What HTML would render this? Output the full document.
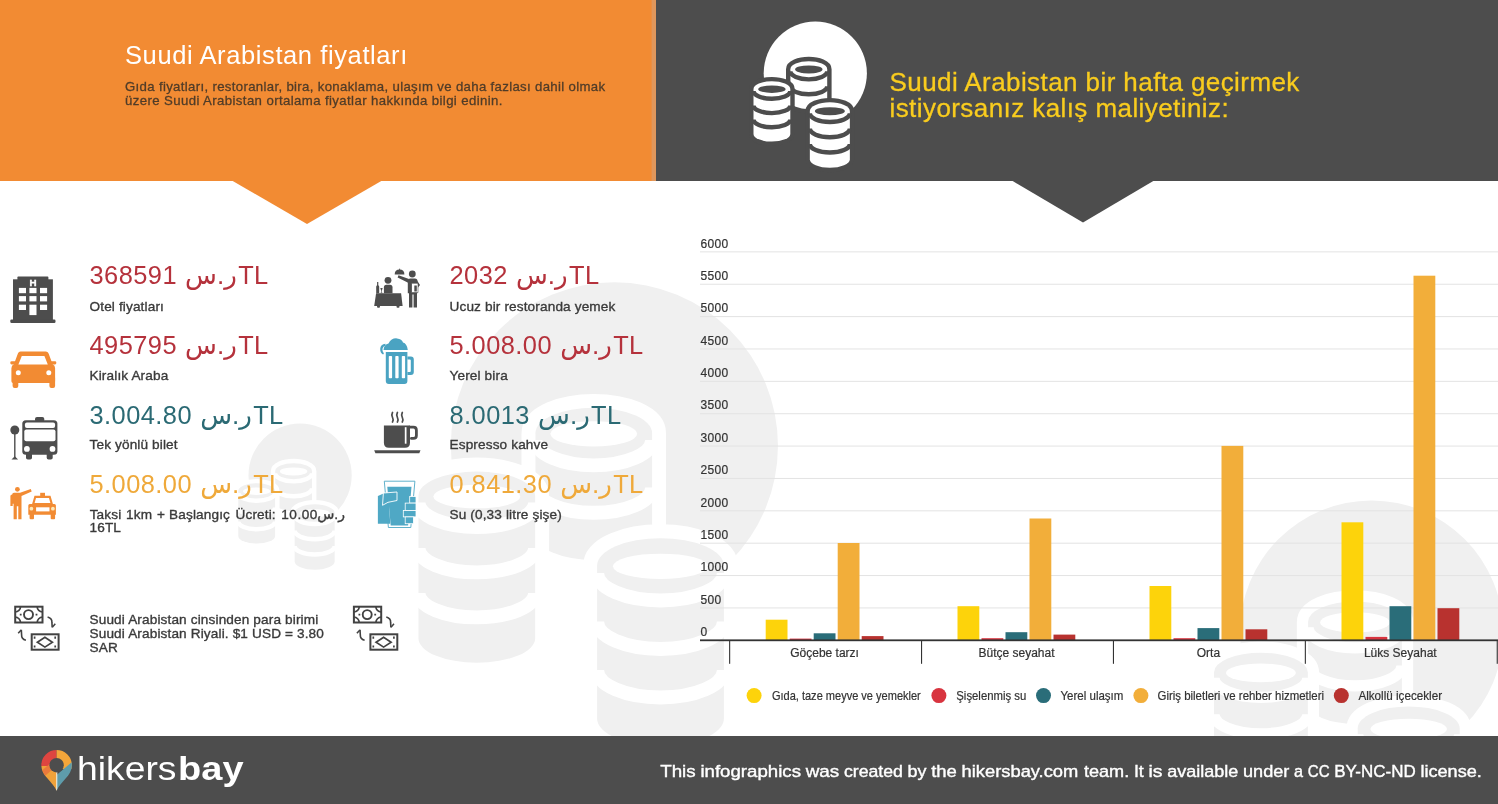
<!DOCTYPE html>
<html lang="tr"><head><meta charset="utf-8"><title>Suudi Arabistan fiyatları</title>
<style>
html,body{margin:0;padding:0;background:#fff;}
body{width:1498px;height:804px;overflow:hidden;position:relative;font-family:"Liberation Sans","DejaVu Sans",sans-serif;}
svg{position:absolute;left:0;top:0;}
text{font-family:"Liberation Sans","DejaVu Sans",sans-serif;}
.yl{font-size:12px;fill:#333;letter-spacing:0.3px;stroke:#333;stroke-width:0.2px;}
.cat{font-size:12px;fill:#333;stroke:#333;stroke-width:0.2px;}
.lg{font-size:12.4px;fill:#333;stroke:#333;stroke-width:0.2px;}
.pr{font-size:25.4px;}
.ar{font-size:26.1px;}
.ar2{font-size:14px;}
.lb{font-size:13.6px;fill:#3a3a3a;letter-spacing:0.14px;stroke:#3a3a3a;stroke-width:0.35px;}
.h1{font-size:25.5px;fill:#fff;letter-spacing:0.6px;}
.sub{font-size:13.2px;fill:#503c28;letter-spacing:0.33px;stroke:#503c28;stroke-width:0.3px;}
.h2{font-size:26px;fill:#f9cc1e;letter-spacing:0.42px;stroke:#f9cc1e;stroke-width:0.3px;}
.ft{font-size:17.2px;fill:#fff;stroke:#fff;stroke-width:0.4px;}
.logo1{font-size:33px;fill:#fff;}
</style></head><body>
<svg width="1498" height="804" viewBox="0 0 1498 804">
<rect width="1498" height="804" fill="#fff"/>
<!-- watermarks -->
<g transform="translate(-515.2,402)"><circle cx="815.3" cy="73.2" r="51.6" fill="#f0f0f0"/>
<rect x="784" y="98" width="30" height="32" fill="#ffffff"/>
<path d="M790.40,69.20 A18.40,8.00 0 0 1 827.20,69.20 L827.20,101.20 A18.40,8.00 0 0 1 790.40,101.20 Z" fill="#ffffff" stroke="#ffffff" stroke-width="8.8" stroke-linejoin="round"/>
<path d="M790.40,69.20 A18.40,8.00 0 0 1 827.20,69.20 L827.20,101.20 A18.40,8.00 0 0 1 790.40,101.20 Z" fill="#f0f0f0"/>
<path d="M790.40,71.35 A18.40,8.00 0 0 0 827.20,71.35" fill="none" stroke="#ffffff" stroke-width="4.4"/>
<path d="M790.40,86.30 A18.40,8.00 0 0 0 827.20,86.30" fill="none" stroke="#ffffff" stroke-width="4.4"/>
<ellipse cx="808.80" cy="69.40" rx="13.7" ry="4" fill="#ffffff"/>
<path d="M753.50,89.00 A18.40,7.70 0 0 1 790.30,89.00 L790.30,133.90 A18.40,7.70 0 0 1 753.50,133.90 Z" fill="#ffffff" stroke="#ffffff" stroke-width="8.8" stroke-linejoin="round"/>
<path d="M753.50,89.00 A18.40,7.70 0 0 1 790.30,89.00 L790.30,133.90 A18.40,7.70 0 0 1 753.50,133.90 Z" fill="#f0f0f0"/>
<path d="M753.50,91.10 A18.40,7.70 0 0 0 790.30,91.10" fill="none" stroke="#ffffff" stroke-width="4.4"/>
<path d="M753.50,105.40 A18.40,7.70 0 0 0 790.30,105.40" fill="none" stroke="#ffffff" stroke-width="4.4"/>
<path d="M753.50,119.60 A18.40,7.70 0 0 0 790.30,119.60" fill="none" stroke="#ffffff" stroke-width="4.4"/>
<ellipse cx="771.90" cy="89.20" rx="13.7" ry="3.7" fill="#ffffff"/>
<path d="M809.85,111.00 A20.00,8.65 0 0 1 849.85,111.00 L849.85,159.20 A20.00,8.65 0 0 1 809.85,159.20 Z" fill="#ffffff" stroke="#ffffff" stroke-width="8.8" stroke-linejoin="round"/>
<path d="M809.85,111.00 A20.00,8.65 0 0 1 849.85,111.00 L849.85,159.20 A20.00,8.65 0 0 1 809.85,159.20 Z" fill="#f0f0f0"/>
<path d="M809.85,113.30 A20.00,8.65 0 0 0 849.85,113.30" fill="none" stroke="#ffffff" stroke-width="4.4"/>
<path d="M809.85,128.60 A20.00,8.65 0 0 0 849.85,128.60" fill="none" stroke="#ffffff" stroke-width="4.4"/>
<path d="M809.85,143.90 A20.00,8.65 0 0 0 849.85,143.90" fill="none" stroke="#ffffff" stroke-width="4.4"/>
<ellipse cx="829.85" cy="111.20" rx="15" ry="4" fill="#ffffff"/></g>
<g transform="translate(476.8,662.7) scale(3.17) translate(-771.9,-141.6)"><circle cx="815.3" cy="73.2" r="51.6" fill="#f0f0f0"/>
<rect x="784" y="98" width="30" height="32" fill="#ffffff"/>
<path d="M790.40,69.20 A18.40,8.00 0 0 1 827.20,69.20 L827.20,101.20 A18.40,8.00 0 0 1 790.40,101.20 Z" fill="#ffffff" stroke="#ffffff" stroke-width="8.8" stroke-linejoin="round"/>
<path d="M790.40,69.20 A18.40,8.00 0 0 1 827.20,69.20 L827.20,101.20 A18.40,8.00 0 0 1 790.40,101.20 Z" fill="#f0f0f0"/>
<path d="M790.40,71.35 A18.40,8.00 0 0 0 827.20,71.35" fill="none" stroke="#ffffff" stroke-width="4.4"/>
<path d="M790.40,86.30 A18.40,8.00 0 0 0 827.20,86.30" fill="none" stroke="#ffffff" stroke-width="4.4"/>
<ellipse cx="808.80" cy="69.40" rx="13.7" ry="4" fill="#ffffff"/>
<path d="M753.50,89.00 A18.40,7.70 0 0 1 790.30,89.00 L790.30,133.90 A18.40,7.70 0 0 1 753.50,133.90 Z" fill="#ffffff" stroke="#ffffff" stroke-width="8.8" stroke-linejoin="round"/>
<path d="M753.50,89.00 A18.40,7.70 0 0 1 790.30,89.00 L790.30,133.90 A18.40,7.70 0 0 1 753.50,133.90 Z" fill="#f0f0f0"/>
<path d="M753.50,91.10 A18.40,7.70 0 0 0 790.30,91.10" fill="none" stroke="#ffffff" stroke-width="4.4"/>
<path d="M753.50,105.40 A18.40,7.70 0 0 0 790.30,105.40" fill="none" stroke="#ffffff" stroke-width="4.4"/>
<path d="M753.50,119.60 A18.40,7.70 0 0 0 790.30,119.60" fill="none" stroke="#ffffff" stroke-width="4.4"/>
<ellipse cx="771.90" cy="89.20" rx="13.7" ry="3.7" fill="#ffffff"/>
<path d="M809.85,111.00 A20.00,8.65 0 0 1 849.85,111.00 L849.85,159.20 A20.00,8.65 0 0 1 809.85,159.20 Z" fill="#ffffff" stroke="#ffffff" stroke-width="8.8" stroke-linejoin="round"/>
<path d="M809.85,111.00 A20.00,8.65 0 0 1 849.85,111.00 L849.85,159.20 A20.00,8.65 0 0 1 809.85,159.20 Z" fill="#f0f0f0"/>
<path d="M809.85,113.30 A20.00,8.65 0 0 0 849.85,113.30" fill="none" stroke="#ffffff" stroke-width="4.4"/>
<path d="M809.85,128.60 A20.00,8.65 0 0 0 849.85,128.60" fill="none" stroke="#ffffff" stroke-width="4.4"/>
<path d="M809.85,143.90 A20.00,8.65 0 0 0 849.85,143.90" fill="none" stroke="#ffffff" stroke-width="4.4"/>
<ellipse cx="829.85" cy="111.20" rx="15" ry="4" fill="#ffffff"/></g>
<g transform="translate(1214,653) scale(2.55) translate(-753.5,-81.4)"><circle cx="815.3" cy="73.2" r="51.6" fill="#f0f0f0"/>
<rect x="784" y="98" width="30" height="32" fill="#ffffff"/>
<path d="M790.40,69.20 A18.40,8.00 0 0 1 827.20,69.20 L827.20,101.20 A18.40,8.00 0 0 1 790.40,101.20 Z" fill="#ffffff" stroke="#ffffff" stroke-width="8.8" stroke-linejoin="round"/>
<path d="M790.40,69.20 A18.40,8.00 0 0 1 827.20,69.20 L827.20,101.20 A18.40,8.00 0 0 1 790.40,101.20 Z" fill="#f0f0f0"/>
<path d="M790.40,71.35 A18.40,8.00 0 0 0 827.20,71.35" fill="none" stroke="#ffffff" stroke-width="4.4"/>
<path d="M790.40,86.30 A18.40,8.00 0 0 0 827.20,86.30" fill="none" stroke="#ffffff" stroke-width="4.4"/>
<ellipse cx="808.80" cy="69.40" rx="13.7" ry="4" fill="#ffffff"/>
<path d="M753.50,89.00 A18.40,7.70 0 0 1 790.30,89.00 L790.30,133.90 A18.40,7.70 0 0 1 753.50,133.90 Z" fill="#ffffff" stroke="#ffffff" stroke-width="8.8" stroke-linejoin="round"/>
<path d="M753.50,89.00 A18.40,7.70 0 0 1 790.30,89.00 L790.30,133.90 A18.40,7.70 0 0 1 753.50,133.90 Z" fill="#f0f0f0"/>
<path d="M753.50,91.10 A18.40,7.70 0 0 0 790.30,91.10" fill="none" stroke="#ffffff" stroke-width="4.4"/>
<path d="M753.50,105.40 A18.40,7.70 0 0 0 790.30,105.40" fill="none" stroke="#ffffff" stroke-width="4.4"/>
<path d="M753.50,119.60 A18.40,7.70 0 0 0 790.30,119.60" fill="none" stroke="#ffffff" stroke-width="4.4"/>
<ellipse cx="771.90" cy="89.20" rx="13.7" ry="3.7" fill="#ffffff"/>
<path d="M809.85,111.00 A20.00,8.65 0 0 1 849.85,111.00 L849.85,159.20 A20.00,8.65 0 0 1 809.85,159.20 Z" fill="#ffffff" stroke="#ffffff" stroke-width="8.8" stroke-linejoin="round"/>
<path d="M809.85,111.00 A20.00,8.65 0 0 1 849.85,111.00 L849.85,159.20 A20.00,8.65 0 0 1 809.85,159.20 Z" fill="#f0f0f0"/>
<path d="M809.85,113.30 A20.00,8.65 0 0 0 849.85,113.30" fill="none" stroke="#ffffff" stroke-width="4.4"/>
<path d="M809.85,128.60 A20.00,8.65 0 0 0 849.85,128.60" fill="none" stroke="#ffffff" stroke-width="4.4"/>
<path d="M809.85,143.90 A20.00,8.65 0 0 0 849.85,143.90" fill="none" stroke="#ffffff" stroke-width="4.4"/>
<ellipse cx="829.85" cy="111.20" rx="15" ry="4" fill="#ffffff"/></g>
<!-- header -->
<rect x="0" y="0" width="656" height="181" fill="#f28b33"/>
<rect x="651.6" y="0" width="4.4" height="181" fill="#e0975c"/>
<rect x="656" y="0" width="842" height="181" fill="#4d4d4d"/>
<path d="M231,180 L383,180 L307,224 Z" fill="#f28b33"/>
<path d="M1011,180 L1155,180 L1083,222.5 Z" fill="#4d4d4d"/>
<g><circle cx="815.3" cy="73.2" r="51.6" fill="#ffffff"/>
<rect x="784" y="98" width="30" height="32" fill="#4d4d4d"/>
<path d="M790.40,69.20 A18.40,8.00 0 0 1 827.20,69.20 L827.20,101.20 A18.40,8.00 0 0 1 790.40,101.20 Z" fill="#4d4d4d" stroke="#4d4d4d" stroke-width="8.8" stroke-linejoin="round"/>
<path d="M790.40,69.20 A18.40,8.00 0 0 1 827.20,69.20 L827.20,101.20 A18.40,8.00 0 0 1 790.40,101.20 Z" fill="#ffffff"/>
<path d="M790.40,71.35 A18.40,8.00 0 0 0 827.20,71.35" fill="none" stroke="#4d4d4d" stroke-width="4.4"/>
<path d="M790.40,86.30 A18.40,8.00 0 0 0 827.20,86.30" fill="none" stroke="#4d4d4d" stroke-width="4.4"/>
<ellipse cx="808.80" cy="69.40" rx="13.7" ry="4" fill="#4d4d4d"/>
<path d="M753.50,89.00 A18.40,7.70 0 0 1 790.30,89.00 L790.30,133.90 A18.40,7.70 0 0 1 753.50,133.90 Z" fill="#4d4d4d" stroke="#4d4d4d" stroke-width="8.8" stroke-linejoin="round"/>
<path d="M753.50,89.00 A18.40,7.70 0 0 1 790.30,89.00 L790.30,133.90 A18.40,7.70 0 0 1 753.50,133.90 Z" fill="#ffffff"/>
<path d="M753.50,91.10 A18.40,7.70 0 0 0 790.30,91.10" fill="none" stroke="#4d4d4d" stroke-width="4.4"/>
<path d="M753.50,105.40 A18.40,7.70 0 0 0 790.30,105.40" fill="none" stroke="#4d4d4d" stroke-width="4.4"/>
<path d="M753.50,119.60 A18.40,7.70 0 0 0 790.30,119.60" fill="none" stroke="#4d4d4d" stroke-width="4.4"/>
<ellipse cx="771.90" cy="89.20" rx="13.7" ry="3.7" fill="#4d4d4d"/>
<path d="M809.85,111.00 A20.00,8.65 0 0 1 849.85,111.00 L849.85,159.20 A20.00,8.65 0 0 1 809.85,159.20 Z" fill="#4d4d4d" stroke="#4d4d4d" stroke-width="8.8" stroke-linejoin="round"/>
<path d="M809.85,111.00 A20.00,8.65 0 0 1 849.85,111.00 L849.85,159.20 A20.00,8.65 0 0 1 809.85,159.20 Z" fill="#ffffff"/>
<path d="M809.85,113.30 A20.00,8.65 0 0 0 849.85,113.30" fill="none" stroke="#4d4d4d" stroke-width="4.4"/>
<path d="M809.85,128.60 A20.00,8.65 0 0 0 849.85,128.60" fill="none" stroke="#4d4d4d" stroke-width="4.4"/>
<path d="M809.85,143.90 A20.00,8.65 0 0 0 849.85,143.90" fill="none" stroke="#4d4d4d" stroke-width="4.4"/>
<ellipse cx="829.85" cy="111.20" rx="15" ry="4" fill="#4d4d4d"/></g>
<text x="125" y="64.2" class="h1">Suudi Arabistan fiyatları</text>
<text x="125" y="90.9" class="sub" textLength="480.4" lengthAdjust="spacing">Gıda fiyatları, restoranlar, bira, konaklama, ulaşım ve daha fazlası dahil olmak</text>
<text x="125" y="105" class="sub" textLength="377.8" lengthAdjust="spacing">üzere Suudi Arabistan ortalama fiyatlar hakkında bilgi edinin.</text>
<text x="889.5" y="90.5" class="h2">Suudi Arabistan bir hafta geçirmek</text>
<text x="889.5" y="117" class="h2">istiyorsanız kalış maliyetiniz:</text>
<!-- chart -->
<text x="700.5" y="636.00" class="yl">0</text>
<rect x="700" y="607.43" width="798" height="1" fill="#e3e3e3"/>
<text x="700.5" y="603.63" class="yl">500</text>
<rect x="700" y="575.06" width="798" height="1" fill="#e3e3e3"/>
<text x="700.5" y="571.26" class="yl">1000</text>
<rect x="700" y="542.69" width="798" height="1" fill="#e3e3e3"/>
<text x="700.5" y="538.89" class="yl">1500</text>
<rect x="700" y="510.32" width="798" height="1" fill="#e3e3e3"/>
<text x="700.5" y="506.52" class="yl">2000</text>
<rect x="700" y="477.95" width="798" height="1" fill="#e3e3e3"/>
<text x="700.5" y="474.15" class="yl">2500</text>
<rect x="700" y="445.58" width="798" height="1" fill="#e3e3e3"/>
<text x="700.5" y="441.78" class="yl">3000</text>
<rect x="700" y="413.21" width="798" height="1" fill="#e3e3e3"/>
<text x="700.5" y="409.41" class="yl">3500</text>
<rect x="700" y="380.84" width="798" height="1" fill="#e3e3e3"/>
<text x="700.5" y="377.04" class="yl">4000</text>
<rect x="700" y="348.47" width="798" height="1" fill="#e3e3e3"/>
<text x="700.5" y="344.67" class="yl">4500</text>
<rect x="700" y="316.10" width="798" height="1" fill="#e3e3e3"/>
<text x="700.5" y="312.30" class="yl">5000</text>
<rect x="700" y="283.73" width="798" height="1" fill="#e3e3e3"/>
<text x="700.5" y="279.93" class="yl">5500</text>
<rect x="700" y="251.36" width="798" height="1" fill="#e3e3e3"/>
<text x="700.5" y="247.56" class="yl">6000</text>
<rect x="765.7" y="619.7" width="21.8" height="20.6" fill="#fdd30b"/>
<rect x="789.7" y="638.6" width="21.8" height="1.7" fill="#d8343f"/>
<rect x="813.7" y="633.3" width="21.8" height="7.0" fill="#2a6d79"/>
<rect x="837.7" y="543.0" width="21.8" height="97.3" fill="#f2ae3a"/>
<rect x="861.7" y="636.1" width="21.8" height="4.2" fill="#b8322f"/>
<rect x="957.5" y="606.2" width="21.8" height="34.1" fill="#fdd30b"/>
<rect x="981.5" y="638.2" width="21.8" height="2.1" fill="#d8343f"/>
<rect x="1005.5" y="632.2" width="21.8" height="8.1" fill="#2a6d79"/>
<rect x="1029.5" y="518.5" width="21.8" height="121.8" fill="#f2ae3a"/>
<rect x="1053.5" y="634.6" width="21.8" height="5.7" fill="#b8322f"/>
<rect x="1149.5" y="586.0" width="21.8" height="54.3" fill="#fdd30b"/>
<rect x="1173.5" y="638.2" width="21.8" height="2.1" fill="#d8343f"/>
<rect x="1197.5" y="628.1" width="21.8" height="12.2" fill="#2a6d79"/>
<rect x="1221.5" y="445.9" width="21.8" height="194.4" fill="#f2ae3a"/>
<rect x="1245.5" y="629.3" width="21.8" height="11.0" fill="#b8322f"/>
<rect x="1341.5" y="522.3" width="21.8" height="118.0" fill="#fdd30b"/>
<rect x="1365.5" y="636.9" width="21.8" height="3.4" fill="#d8343f"/>
<rect x="1389.5" y="606.2" width="21.8" height="34.1" fill="#2a6d79"/>
<rect x="1413.5" y="275.7" width="21.8" height="364.6" fill="#f2ae3a"/>
<rect x="1437.5" y="608.2" width="21.8" height="32.1" fill="#b8322f"/>
<rect x="700" y="639.4" width="798" height="1.8" fill="#333"/>
<rect x="729.1" y="640.3" width="1.1" height="23.5" fill="#333"/><rect x="921.0" y="640.3" width="1.1" height="23.5" fill="#333"/><rect x="1112.9" y="640.3" width="1.1" height="23.5" fill="#333"/><rect x="1304.8" y="640.3" width="1.1" height="23.5" fill="#333"/><rect x="1496.7" y="640.3" width="1.1" height="23.5" fill="#333"/>
<text x="824.6" y="656.9" class="cat" text-anchor="middle">Göçebe tarzı</text><text x="1016.5" y="656.9" class="cat" text-anchor="middle">Bütçe seyahat</text><text x="1208.4" y="656.9" class="cat" text-anchor="middle">Orta</text><text x="1400.3" y="656.9" class="cat" text-anchor="middle">Lüks Seyahat</text>
<circle cx="754.1" cy="695.6" r="7.5" fill="#fdd30b"/><text x="771.9" y="699.9" class="lg" textLength="148.9" lengthAdjust="spacingAndGlyphs">Gıda, taze meyve ve yemekler</text><circle cx="938.9" cy="695.6" r="7.5" fill="#d8343f"/><text x="956.3" y="699.9" class="lg" textLength="70.0" lengthAdjust="spacingAndGlyphs">Şişelenmiş su</text><circle cx="1043.5" cy="695.6" r="7.5" fill="#2a6d79"/><text x="1060.5" y="699.9" class="lg" textLength="62.9" lengthAdjust="spacingAndGlyphs">Yerel ulaşım</text><circle cx="1140.9" cy="695.6" r="7.5" fill="#f2ae3a"/><text x="1157.5" y="699.9" class="lg" textLength="166.5" lengthAdjust="spacingAndGlyphs">Giriş biletleri ve rehber hizmetleri</text><circle cx="1341.3" cy="695.6" r="7.5" fill="#b8322f"/><text x="1358.4" y="699.9" class="lg" textLength="83.7" lengthAdjust="spacingAndGlyphs">Alkollü içecekler</text>
<!-- prices -->
<text x="89.5" y="284.2" class="pr" fill="#b5323c"><tspan dx="0 0.45 0.45 0.45 0.45 0.45 0.45">368591 </tspan><tspan class="ar" dx="1.1">ر.س</tspan><tspan dx="1.3 0.45">TL</tspan></text>
<text x="89.5" y="310.6" class="lb">Otel fiyatları</text>
<text x="89.5" y="354.1" class="pr" fill="#b5323c"><tspan dx="0 0.45 0.45 0.45 0.45 0.45 0.45">495795 </tspan><tspan class="ar" dx="1.1">ر.س</tspan><tspan dx="1.3 0.45">TL</tspan></text>
<text x="89.5" y="379.5" class="lb">Kiralık Araba</text>
<text x="89.5" y="423.5" class="pr" fill="#2b6a74"><tspan dx="0 0.45 0.45 0.45 0.45 0.45 0.45 0.45 0.45">3.004.80 </tspan><tspan class="ar" dx="1.1">ر.س</tspan><tspan dx="1.3 0.45">TL</tspan></text>
<text x="89.5" y="448.9" class="lb">Tek yönlü bilet</text>
<text x="89.5" y="492.7" class="pr" fill="#efa93a"><tspan dx="0 0.45 0.45 0.45 0.45 0.45 0.45 0.45 0.45">5.008.00 </tspan><tspan class="ar" dx="1.1">ر.س</tspan><tspan dx="1.3 0.45">TL</tspan></text>
<text x="449.5" y="284.2" class="pr" fill="#b5323c"><tspan dx="0 0.45 0.45 0.45 0.45">2032 </tspan><tspan class="ar" dx="1.1">ر.س</tspan><tspan dx="1.3 0.45">TL</tspan></text>
<text x="449.5" y="310.6" class="lb">Ucuz bir restoranda yemek</text>
<text x="449.5" y="354.1" class="pr" fill="#b5323c"><tspan dx="0 0.45 0.45 0.45 0.45 0.45 0.45 0.45 0.45">5.008.00 </tspan><tspan class="ar" dx="1.1">ر.س</tspan><tspan dx="1.3 0.45">TL</tspan></text>
<text x="449.5" y="379.5" class="lb">Yerel bira</text>
<text x="449.5" y="423.5" class="pr" fill="#2b6a74"><tspan dx="0 0.45 0.45 0.45 0.45 0.45 0.45">8.0013 </tspan><tspan class="ar" dx="1.1">ر.س</tspan><tspan dx="1.3 0.45">TL</tspan></text>
<text x="449.5" y="448.9" class="lb">Espresso kahve</text>
<text x="449.5" y="492.7" class="pr" fill="#efa93a"><tspan dx="0 0.45 0.45 0.45 0.45 0.45 0.45 0.45 0.45">0.841.30 </tspan><tspan class="ar" dx="1.1">ر.س</tspan><tspan dx="1.3 0.45">TL</tspan></text>
<text x="449.5" y="518.8" class="lb">Su (0,33 litre şişe)</text>
<text y="518.6" class="lb"><tspan x="89.7">Taksi</tspan> <tspan x="126.1">1km</tspan> <tspan x="157.0">+</tspan> <tspan x="169.1">Başlangıç</tspan> <tspan x="235.5">Ücreti:</tspan> <tspan x="281.2" style="letter-spacing:0" dx="0 0.55 0.55 0.55 0.55">10.00</tspan><tspan x="317.2" style="letter-spacing:0" class="ar2">ر.س</tspan></text>
<text x="89.5" y="532.4" class="lb">16TL</text>
<text x="89.5" y="623.6" class="lb">Suudi Arabistan cinsinden para birimi</text>
<text x="89.5" y="637.7" class="lb">Suudi Arabistan Riyali. $1 USD = 3.80</text>
<text x="89.5" y="651.7" class="lb">SAR</text>
<!-- icons -->
<!-- hotel -->
<g fill="#4d4d4d">
<rect x="17.4" y="276.6" width="31" height="4" rx="0.8"/>
<rect x="13" y="279.3" width="39.9" height="41"/>
<rect x="10.3" y="319.6" width="45.2" height="3.4" rx="1.2"/>
</g>
<g fill="#fff">
<rect x="18.9" y="287.9" width="7.1" height="5.3"/><rect x="29.4" y="287.9" width="7.1" height="5.3"/><rect x="40" y="287.9" width="7.1" height="5.3"/>
<rect x="18.9" y="296.1" width="7.1" height="5.3"/><rect x="29.4" y="296.1" width="7.1" height="5.3"/><rect x="40" y="296.1" width="7.1" height="5.3"/>
<rect x="18.9" y="304.7" width="7.1" height="5.3"/><rect x="29.4" y="304.7" width="7.1" height="10.4"/><rect x="40" y="304.7" width="7.1" height="5.3"/>
</g>
<text x="32.95" y="285.7" text-anchor="middle" font-size="9.8" font-weight="bold" fill="#fff" stroke="#fff" stroke-width="0.4">H</text>
<!-- car -->
<g fill="#f28b33">
<path d="M20.5,351.6 h25.3 q2,0 2.8,2 l4,10.6 q2.5,1 2.5,4 v13 q0,1.7 -1.7,1.7 h-40.3 q-1.7,0 -1.7,-1.700 v-13 q0,-3 2.500,-4 l4,-10.6 q0.8,-2 2.600,-2 z"/>
<rect x="10.3" y="361.2" width="6.5" height="3.2" rx="1.3"/>
<rect x="49.8" y="361.2" width="6.5" height="3.2" rx="1.3"/>
<rect x="12.600" y="376" width="5.700" height="12.100" rx="2"/>
<rect x="49.4" y="376" width="5.700" height="12.100" rx="2"/>
</g>
<path d="M21.8,356 h22.6 l3.400,8.600 h-29.400 z" fill="#fff"/>
<circle cx="18.3" cy="372.8" r="2.500" fill="#fff"/><circle cx="48.800" cy="372.8" r="2.500" fill="#fff"/>
<!-- bus -->
<g fill="#4d4d4d">
<circle cx="14.8" cy="430" r="4.500"/>
<rect x="14.100" y="430" width="1.4" height="28"/>
<path d="M11.500,459.500 l3.300,-3.200 l3.300,3.200 z"/>
<rect x="35" y="417" width="9.300" height="5" rx="2"/>
<rect x="22.300" y="420.300" width="35.100" height="34.500" rx="3.500"/>
<rect x="26" y="452" width="6" height="7.500" rx="1.800"/>
<rect x="46.7" y="452" width="6" height="7.500" rx="1.800"/>
</g>
<g fill="#fff">
<rect x="24.900" y="422.600" width="30.200" height="5.400" rx="2"/>
<rect x="24.300" y="429.600" width="31.200" height="11.600" rx="2"/>
<circle cx="26.900" cy="448.900" r="2.900"/><circle cx="52.500" cy="448.900" r="2.900"/>
</g>
<!-- taxi -->
<g fill="#f28b33">
<circle cx="17.400" cy="489.300" r="2.400"/>
<path d="M12.200,494.500 q0,-1.800 1.800,-1.800 h6 l10.800,-3.600 l0.900,2.500 l-10.200,4.400 v23.300 h-3.200 v-13 h-1.500 v13 h-3.200 v-15.500 h-0.900 v2.200 h-2.300 v-10 q0,-1.500 1.800,-1.500 z"/>
<rect x="40.200" y="492.800" width="4.800" height="3.600"/>
<path d="M34.500,495.800 h16 l2.400,8.200 h1.500 q1.500,0 1.500,1.500 v9.300 h-27.600 v-9.300 q0,-1.500 1.500,-1.500 h2.300 z"/>
<rect x="29.600" y="513" width="4.400" height="6.300" rx="1"/>
<rect x="50.700" y="513" width="4.400" height="6.300" rx="1"/>
</g>
<path d="M36,498 h13 l1.400,5 h-15.800 z" fill="#fff"/>
<rect x="36.100" y="507.300" width="13.400" height="4.100" fill="#fff"/>
<circle cx="31.400" cy="508.700" r="1.900" fill="#fde9b8"/><circle cx="52.900" cy="508.700" r="1.900" fill="#fde9b8"/>
<!-- restaurant -->
<g fill="#4d4d4d">
<path d="M376.100,293.300 h25 l1.500,12.700 h-28.400 z"/>
<rect x="377" y="305.500" width="3" height="2.300" rx="1"/><rect x="396.500" y="305.500" width="3" height="2.300" rx="1"/>
<circle cx="388" cy="280.300" r="3.400"/>
<path d="M383.900,287.300 q0,-2.500 2.500,-2.500 h3.600 q2.500,0 2.500,2.500 v6 h-8.600 z"/>
<path d="M377.100,282 h1.200 v3 l0.900,1.500 v6.800 h-3 v-6.800 l0.900,-1.500 z"/>
<path d="M380.300,288 h2.400 l-0.900,2.800 v2 h0.800 v0.500 h-2.200 v-0.500 h0.800 v-2 z"/>
<circle cx="412.300" cy="274" r="3.400"/>
<path d="M407.800,281 q0,-2.600 2.600,-2.600 h4.500 q2.600,0 2.600,2.600 v12.300 h-0.500 v14.200 h-3.400 v-13 h-1.200 v13 h-3.400 v-14.200 h-1.200 z"/>
<path d="M409,279 l-10.500,-3.800 l-0.900,2.300 l10.500,5.200 z"/>
<path d="M394.700,274.600 q0,-5 4.850,-5 q4.850,0 4.850,5 z"/>
<rect x="399.100" y="268.700" width="1" height="1.200"/>
<path d="M417,280.500 l3,4.500 l-2,2.500 l-2,-2 z"/>
</g>
<rect x="411.700" y="283.200" width="6.300" height="9.400" fill="#fff" stroke="#4d4d4d" stroke-width="0.600"/>
<rect x="414.300" y="285.500" width="2.500" height="6" fill="#4d4d4d"/>
<!-- beer -->
<g fill="#4aa3c2">
<path d="M383.500,349.900 q0.500,-5.500 5,-6.500 q3,-5.500 8.500,-5 q5,0.500 6,4 q4,1 4.800,7.500 z"/>
<path d="M385.500,343.800 q-5,0.500 -5.300,5 q-0.200,4 2.800,5.600 q1,-0.200 0.800,-1.200 q-1.800,-2 -1.300,-4.400 q0.500,-2.500 3,-3 z"/>
<path d="M385.800,352.100 h21.600 v28.800 q0,3 -3,3 h-15.600 q-3,0 -3,-3 z"/>
<path d="M407.400,356.600 h3.400 q3,0 3,3 v12.300 q0,3 -3,3 h-3.400 v-3 h2.400 q1,0 1,-1 v-10.300 q0,-1 -1,-1 h-2.400 z"/>
</g>
<g fill="#fff">
<rect x="388.800" y="355.900" width="3.300" height="22.400" rx="0.800"/>
<rect x="395.300" y="355.900" width="3.300" height="22.400" rx="0.800"/>
<rect x="401.800" y="355.900" width="3.300" height="22.400" rx="0.800"/>
</g>
<!-- coffee -->
<g fill="#4d4d4d">
<path d="M383.900,425.400 h26.100 v17.400 q0,5 -5,5 h-16.100 q-5,0 -5,-5 z"/>
<path d="M374.200,450.300 h46.300 l-1.200,2.900 h-43.900 z"/>
</g>
<path d="M409.500,427.200 h3.900 q3,0 3,3 v5.200 q0,3 -3,3 h-2" fill="none" stroke="#4d4d4d" stroke-width="2.800" stroke-linecap="round"/>
<rect x="404.800" y="427.200" width="1.700" height="16.500" fill="#fff"/>
<g fill="none" stroke="#4d4d4d" stroke-width="1.700" stroke-linecap="round">
<path d="M392.500,412.500 q-1.300,2.400 0,4.800 q1.300,2.400 0,4.700"/>
<path d="M397.400,412.500 q-1.300,2.400 0,4.800 q1.300,2.400 0,4.700"/>
<path d="M402.300,412.500 q-1.300,2.400 0,4.800 q1.300,2.400 0,4.700"/>
</g>
<!-- water -->
<g>
<path d="M384.300,481.200 h30.600 l-4.100,46.300 h-22.400 z" fill="#fff" stroke="#4fa8c5" stroke-width="0.900"/>
<path d="M387.300,486.800 h24.200 l-3.400,38.800 h-17.400 z" fill="#4fa8c5"/>
<path d="M377.900,496 l5.500,-2.500 h5 l1.800,30.200 h-12.300 z" fill="#4fa8c5"/>
<path d="M383.400,493 l13.600,-1 v8.500 l-9,1.800 l-5.500,3 z" fill="#4fa8c5" stroke="#fff" stroke-width="0.900"/>
<g fill="#4fa8c5" stroke="#fff" stroke-width="0.800">
<rect x="409.700" y="496.500" width="6.300" height="6.600"/>
<rect x="405.200" y="503.100" width="10.800" height="7.400"/>
<rect x="403.300" y="510.500" width="12.700" height="6.400"/>
<rect x="405.200" y="516.900" width="8.200" height="6.800"/>
</g>
</g>
<!-- money -->
<g id="money" fill="none" stroke="#424242" stroke-width="2">
<rect x="15.200" y="606.700" width="27.300" height="15.800"/>
<circle cx="28.500" cy="614.600" r="4.500" stroke-width="1.900"/>
<path d="M15.200,612 a5.300,5.300 0 0 0 5.300,-5.300 M42.500,612 a5.300,5.300 0 0 1 -5.300,-5.300 M15.200,617.200 a5.300,5.300 0 0 1 5.300,5.300 M42.500,617.200 a5.300,5.300 0 0 0 -5.300,5.300" stroke-width="1.700"/>
<path d="M19.800,614.600 h1.800 M35.600,614.600 h1.800" stroke-width="1.900"/>
<rect x="31.700" y="634.300" width="26.900" height="15.400"/>
<path d="M37.400,642.200 l7.500,-4.900 l7.500,4.900 l-7.500,4.900 z" stroke-width="1.700"/>
<path d="M34.600,636.600 v2.200 M34.600,645.400 v2.200 M55.200,636.600 v2.200 M55.200,645.400 v2.200" stroke-width="1.700"/>
<path d="M47.600,616.900 q4.600,1.200 4.300,5.500 l0.300,5" stroke-width="1.600"/>
<path d="M52.300,627.200 l3,-3.400" stroke-width="1.500"/>
<path d="M25.900,640.200 q-4.600,-1.200 -4.300,-5.500 l-0.300,-5" stroke-width="1.600"/>
<path d="M21.200,629.900 l-3,3.400" stroke-width="1.500"/>
</g>
<use href="#money" x="338.700" y="0"/>

<!-- footer -->
<rect x="0" y="736" width="1498" height="68" fill="#4d4d4d"/>
<text y="777.3" class="ft"><tspan x="660.2" textLength="35.5" lengthAdjust="spacingAndGlyphs">This</tspan> <tspan x="700.4" textLength="100.6" lengthAdjust="spacingAndGlyphs">infographics</tspan> <tspan x="805.7" textLength="33.5" lengthAdjust="spacingAndGlyphs">was</tspan> <tspan x="843.9" textLength="59.0" lengthAdjust="spacingAndGlyphs">created</tspan> <tspan x="907.6" textLength="18.9" lengthAdjust="spacingAndGlyphs">by</tspan> <tspan x="931.2" textLength="25.7" lengthAdjust="spacingAndGlyphs">the</tspan> <tspan x="961.6" textLength="116.7" lengthAdjust="spacingAndGlyphs">hikersbay.com</tspan> <tspan x="1083.9" textLength="45.3" lengthAdjust="spacingAndGlyphs">team.</tspan> <tspan x="1133.9" textLength="9.9" lengthAdjust="spacingAndGlyphs">It</tspan> <tspan x="1148.5" textLength="14.0" lengthAdjust="spacingAndGlyphs">is</tspan> <tspan x="1167.2" textLength="71.1" lengthAdjust="spacingAndGlyphs">available</tspan> <tspan x="1243.0" textLength="46.4" lengthAdjust="spacingAndGlyphs">under</tspan> <tspan x="1294.1" textLength="9.0" lengthAdjust="spacingAndGlyphs">a</tspan> <tspan x="1307.8" textLength="21.8" lengthAdjust="spacingAndGlyphs">CC</tspan> <tspan x="1334.3" textLength="81.4" lengthAdjust="spacingAndGlyphs">BY-NC-ND</tspan> <tspan x="1420.4" textLength="61.5" lengthAdjust="spacingAndGlyphs">license.</tspan></text>
<defs><clipPath id="pinclip"><path d="M56.6,790.8 C53,781.5 41.3,776 41.3,765.2 A15.3,15.3 0 0 1 71.9,765.2 C71.9,776 60.2,781.5 56.6,790.8 Z"/></clipPath></defs>
<g clip-path="url(#pinclip)">
<rect x="40" y="748" width="16.6" height="18" fill="#de4540"/>
<rect x="40" y="766" width="16.6" height="26" fill="#f0a23a"/>
<path d="M40,772 L56.6,758 L56.6,766 L40,780 Z" fill="#ea7a3c"/>
<rect x="56.6" y="748" width="16.6" height="21" fill="#f4a63a"/>
<path d="M56.6,775 L73.2,761 V792 H56.6 Z" fill="#5e9cab"/>
<rect x="56.1" y="772" width="1.2" height="20" fill="#f3e6d0"/>
</g>
<circle cx="56.6" cy="765.2" r="7.2" fill="#4d4d4d"/>
<text x="77" y="780.2" class="logo1"><tspan textLength="99.5" lengthAdjust="spacingAndGlyphs">hikers</tspan><tspan font-weight="bold" dx="1.6" textLength="65.5" lengthAdjust="spacingAndGlyphs">bay</tspan></text>
</svg>
</body></html>
